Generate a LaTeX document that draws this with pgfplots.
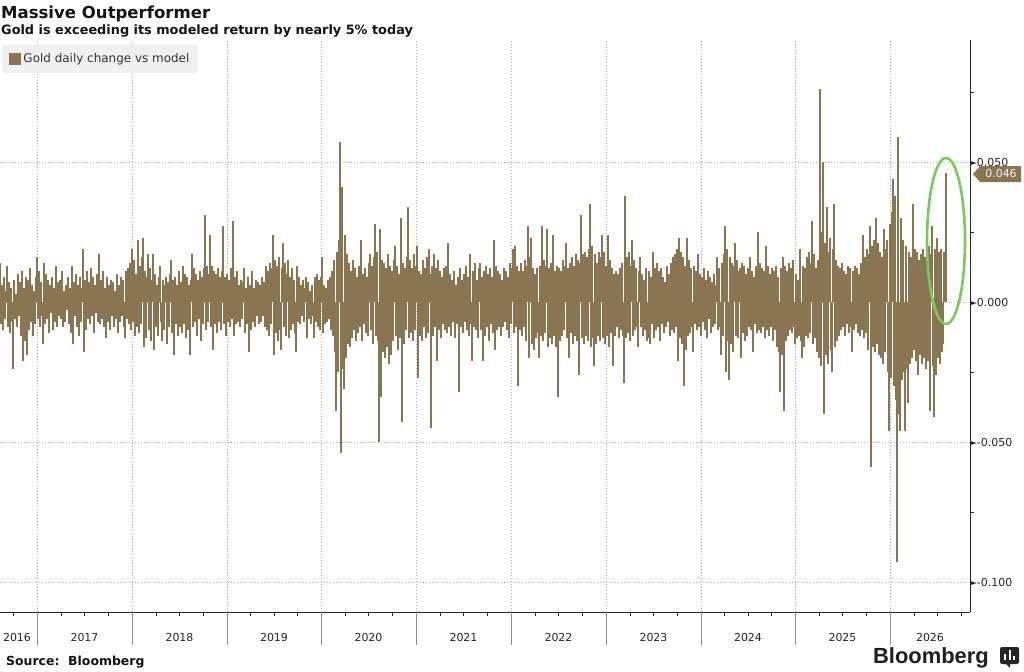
\documentclass[border=0pt]{standalone}
\usepackage{fontspec}
\setmainfont{DejaVu Sans}
\setsansfont{DejaVu Sans}
\newfontfamily\logofont{Liberation Sans}
\usepackage{pgfplots}
\usepackage{pgfplotstable}
\pgfplotsset{compat=1.18}
\definecolor{gold}{HTML}{8A7553}
\definecolor{gridc}{HTML}{B4B4B4}
\definecolor{ringc}{HTML}{79C95B}
\definecolor{legbg}{HTML}{F0F0F0}
\newcommand\tri{\raisebox{0.6bp}{\fontsize{7.5}{8}\selectfont ►}}
% gold daily change vs model, in thousandths, one value per plotted day-column
\pgfplotstableread[row sep=\\]{
v\\
14\\-8\\6\\-10\\9\\-6\\4\\13\\-9\\7\\-11\\5\\-7\\-24\\8\\-6\\3\\-9\\10\\-5\\
7\\-12\\11\\-21\\5\\-14\\9\\-19\\8\\-10\\12\\-7\\6\\-12\\4\\-8\\9\\16\\-6\\11\\
-9\\7\\-5\\-15\\14\\-8\\10\\-6\\8\\-11\\6\\-4\\9\\-10\\5\\-7\\13\\-9\\7\\-5\\
8\\-6\\11\\-9\\4\\-7\\6\\-3\\9\\-8\\5\\-11\\13\\-15\\7\\-5\\10\\-9\\6\\-12\\
9\\-7\\5\\19\\-18\\8\\-10\\11\\-6\\7\\-8\\12\\-5\\9\\-11\\6\\-4\\10\\-7\\17\\
-8\\8\\-6\\11\\-9\\5\\-13\\9\\-7\\6\\-10\\8\\-5\\7\\-9\\4\\-6\\10\\-11\\6\\
-7\\9\\-5\\8\\-9\\-13\\11\\-6\\12\\-8\\14\\-10\\19\\-7\\15\\-12\\10\\-9\\22\\-11\\
13\\-8\\16\\23\\-16\\11\\-13\\9\\17\\-10\\12\\-14\\8\\17\\-17\\10\\-9\\6\\-12\\9\\
13\\-7\\-14\\8\\-10\\6\\9\\-15\\7\\-9\\10\\15\\-11\\8\\-19\\9\\-8\\6\\-12\\11\\
-9\\7\\-11\\13\\-8\\10\\-13\\9\\-10\\6\\-19\\8\\17\\-9\\12\\-7\\10\\-12\\8\\-6\\
11\\-14\\9\\-8\\12\\31\\-10\\13\\-7\\10\\24\\-9\\13\\-17\\11\\-8\\10\\-11\\12\\-7\\
9\\-10\\11\\27\\-8\\9\\-12\\10\\-7\\8\\-9\\12\\-6\\29\\-12\\9\\-8\\11\\-7\\6\\
-9\\8\\-6\\7\\12\\-11\\5\\-8\\9\\-18\\6\\-10\\11\\-7\\5\\-9\\8\\-5\\7\\-8\\
6\\-7\\9\\-5\\7\\-9\\13\\-10\\11\\-12\\14\\-8\\12\\24\\-19\\15\\-11\\13\\-14\\16\\
-10\\-17\\12\\21\\-9\\14\\-12\\10\\15\\-13\\9\\-10\\12\\-8\\8\\-11\\-18\\13\\-7\\9\\
-8\\6\\-5\\8\\-7\\5\\9\\-13\\7\\-6\\4\\-8\\6\\-5\\-13\\9\\-7\\10\\-9\\8\\
-10\\9\\16\\-11\\6\\-8\\5\\-7\\8\\-6\\9\\-10\\11\\-12\\15\\-18\\-39\\18\\-25\\22\\
57\\-54\\41\\-24\\-31\\24\\-20\\17\\-15\\14\\-16\\11\\-13\\15\\-10\\12\\-14\\9\\-11\\13\\
-9\\22\\-14\\10\\-8\\12\\-11\\9\\-12\\14\\17\\-10\\13\\-15\\16\\28\\-12\\18\\-14\\-50\\
26\\-34\\15\\-18\\14\\-20\\12\\-16\\17\\-22\\13\\-19\\11\\-14\\15\\20\\-12\\13\\-17\\10\\
-13\\30\\-43\\14\\-15\\12\\-10\\16\\34\\-13\\15\\-11\\12\\-14\\17\\-10\\13\\20\\-27\\11\\
-12\\10\\-14\\15\\-9\\12\\-13\\16\\-11\\19\\10\\-45\\13\\-12\\17\\-9\\12\\-21\\15\\-10\\
11\\-13\\9\\-8\\12\\-10\\13\\-11\\21\\-9\\10\\-12\\8\\-7\\11\\-13\\6\\-8\\9\\-32\\
12\\-9\\8\\-11\\10\\-7\\13\\-10\\9\\-12\\17\\-8\\-21\\11\\-9\\14\\-10\\8\\-13\\12\\
14\\-10\\9\\-21\\11\\-12\\13\\-9\\10\\-14\\12\\-8\\9\\-11\\22\\-17\\13\\-10\\11\\-9\\
10\\-12\\8\\-9\\12\\-7\\11\\-10\\9\\-13\\14\\-8\\12\\19\\-11\\20\\-9\\13\\-30\\11\\
-10\\14\\-12\\11\\-9\\15\\-14\\13\\27\\-20\\16\\23\\-15\\12\\-17\\10\\-13\\12\\-11\\-20\\
13\\-12\\27\\-14\\15\\-11\\13\\26\\-16\\12\\-13\\14\\-15\\24\\-12\\11\\-16\\13\\-34\\12\\
-14\\11\\-12\\15\\-10\\13\\21\\-13\\12\\-20\\14\\-11\\16\\-15\\13\\-12\\17\\-14\\15\\-26\\
14\\31\\-13\\17\\-15\\18\\-12\\16\\-14\\19\\35\\-16\\20\\-13\\-23\\17\\-15\\14\\-12\\18\\
-14\\16\\24\\-13\\18\\-15\\13\\-12\\24\\-16\\15\\-11\\12\\-23\\10\\-12\\11\\-9\\10\\-13\\
12\\-10\\14\\-12\\-29\\38\\-13\\16\\-11\\18\\-14\\13\\22\\-12\\15\\-10\\12\\-9\\-16\\11\\
16\\-9\\10\\-12\\8\\-10\\12\\-14\\-13\\11\\-15\\9\\-8\\18\\-13\\12\\-10\\14\\-9\\11\\
-14\\12\\-8\\9\\-11\\7\\-9\\13\\-7\\10\\-12\\14\\-10\\16\\-11\\17\\-9\\19\\-21\\23\\
-13\\18\\-15\\16\\-30\\13\\-17\\23\\-12\\15\\-11\\12\\-9\\-18\\13\\-8\\11\\-10\\17\\-9\\
10\\-12\\9\\-7\\12\\-10\\8\\-13\\11\\-6\\9\\-11\\7\\-9\\10\\-8\\6\\16\\-10\\12\\
-9\\-19\\14\\-12\\17\\27\\-25\\19\\-14\\-28\\16\\-15\\14\\-18\\13\\21\\-12\\15\\-13\\11\\
12\\-20\\14\\-11\\13\\-14\\10\\-12\\12\\-9\\16\\-10\\11\\-18\\9\\-8\\13\\-11\\25\\-10\\
14\\-11\\12\\-9\\11\\-13\\20\\-10\\13\\-12\\10\\-9\\12\\-14\\11\\-10\\13\\-16\\9\\-18\\
-32\\12\\-19\\16\\-39\\13\\-14\\11\\-12\\14\\-10\\12\\-11\\15\\-9\\-15\\10\\-13\\8\\-12\\
19\\-14\\-20\\13\\-16\\12\\-12\\16\\-13\\18\\-11\\14\\29\\-15\\17\\-13\\12\\-18\\15\\-20\\
76\\-23\\25\\50\\-40\\21\\-19\\34\\-22\\18\\23\\-17\\-25\\19\\35\\-16\\15\\-14\\13\\-12\\
12\\-10\\14\\-9\\11\\-12\\10\\-8\\13\\-11\\12\\-9\\-18\\11\\-10\\13\\-8\\12\\-11\\10\\
-12\\14\\-10\\24\\-13\\16\\-11\\19\\-17\\17\\27\\-59\\20\\-16\\22\\-18\\30\\-15\\21\\-19\\
18\\-20\\16\\-22\\26\\-18\\19\\22\\-25\\-46\\28\\-27\\32\\44\\-30\\38\\-35\\-93\\59\\-40\\
-46\\30\\-28\\22\\-25\\-46\\20\\-24\\-36\\18\\-22\\16\\-20\\35\\-17\\19\\-21\\18\\-26\\15\\
-19\\17\\-22\\19\\-20\\16\\-24\\18\\-21\\20\\-39\\17\\27\\-23\\-41\\19\\-26\\23\\-20\\18\\
-22\\19\\-18\\-15\\18\\16\\46\\
}\golddata
\begin{document}
\begin{tikzpicture}
\useasboundingbox (0,0) rectangle (1024bp,-672bp);
\node[anchor=base west, inner sep=0pt, font=\fontsize{16.6}{19}\selectfont\bfseries, text=black!92] at (1bp,-18bp) {Massive Outperformer};
\node[anchor=base west, inner sep=0pt, font=\fontsize{12.9}{14}\selectfont\bfseries, text=black!92] at (1bp,-34.5bp) {Gold is exceeding its modeled return by nearly 5\% today};
\begin{axis}[
  at={(0bp,-612bp)}, anchor=south west,
  scale only axis, width=970bp, height=572bp,
  xmin=0, xmax=970, ymin=-110.7, ymax=93.6,
  axis x line*=bottom, axis y line*=right,
  axis line style={draw=black!85, line width=0.9bp},
  tick align=outside,
  major tick length=0bp, minor tick length=4bp,
  tick style={draw=black!85, line width=0.8bp},
  xtick={17,84.5,179.5,274,368.5,463.5,558.5,653.5,748,842.5,930},
  xticklabels={2016,2017,2018,2019,2020,2021,2022,2023,2024,2025,2026},
  minor xtick={13,61,84.5,108,156,179.5,203,250.5,274,297.5,345,368.5,392,440,463.5,487,535,558.5,582,630,653.5,677,724.5,748,771.5,819,842.5,866,914,937,961},
  extra x ticks={37,132,227,321,416,511,606,701,795,890},
  extra x tick labels={},
  extra x tick style={grid=major, major tick length=33bp, tick style={draw=black!45, line width=0.8bp}},
  ytick={-100,-50,0,50},
  yticklabels={\tri-0.100,\tri-0.050,\tri0.000,\tri0.050},
  minor ytick={-75,-25,25,75},
  ymajorgrids,
  major grid style={draw=gridc, line width=0.8bp, dash pattern=on 1bp off 2bp},
  ticklabel style={font=\fontsize{11}{12}\selectfont, text=black!85},
  xticklabel style={anchor=base, yshift=-29bp},
  yticklabel style={anchor=west, inner sep=0pt, xshift=1bp},
  legend style={at={(0,1)}, anchor=north west, xshift=2bp, yshift=-5bp,
    fill=legbg, draw=none, rounded corners=1.5bp, font=\fontsize{12}{13}\selectfont, text=black!80,
    inner xsep=7bp, inner ysep=6.5bp},
  legend cell align=left,
  legend image code/.code={\fill[gold, sharp corners] (0bp,-5.5bp) rectangle (11bp,5.5bp);},
]
\addplot[ycomb, draw=gold, line width=1.3bp] table[x expr=\coordindex, y=v] {\golddata};
\addlegendentry{Gold daily change vs model}
\end{axis}
% highlight ring and last-value tag
\draw[ringc, line width=2.6bp] (946bp,-241bp) ellipse [x radius=19bp, y radius=83bp];
\fill[gold] (973bp,-174bp) -- (980bp,-166bp) -- (1021bp,-166bp) -- (1021bp,-182bp) -- (980bp,-182bp) -- cycle;
\node[anchor=center, inner sep=0pt, font=\fontsize{11}{12}\selectfont, text=white!92!gold] at (1001bp,-174bp) {0.046};
% footer
\node[anchor=base west, inner sep=0pt, font=\fontsize{12.5}{14}\selectfont\bfseries, text=black!92] at (6bp,-665bp) {Source:\ \ Bloomberg};
\node[anchor=base east, inner sep=0pt, font=\fontsize{22}{24}\selectfont\logofont\bfseries, text=black!88] at (989bp,-663bp) {Bloomberg};
\fill[black!85, rounded corners=2bp] (1000bp,-647bp) rectangle (1019bp,-664bp);
\fill[black!85] (1005bp,-663bp) -- (1010bp,-668bp) -- (1010bp,-663bp) -- cycle;
\fill[white] (1004bp,-660bp) rectangle (1006.2bp,-654bp);
\fill[white] (1008.5bp,-660bp) rectangle (1010.7bp,-650bp);
\fill[white] (1013bp,-660bp) rectangle (1015.2bp,-655.5bp);
\end{tikzpicture}
\end{document}
